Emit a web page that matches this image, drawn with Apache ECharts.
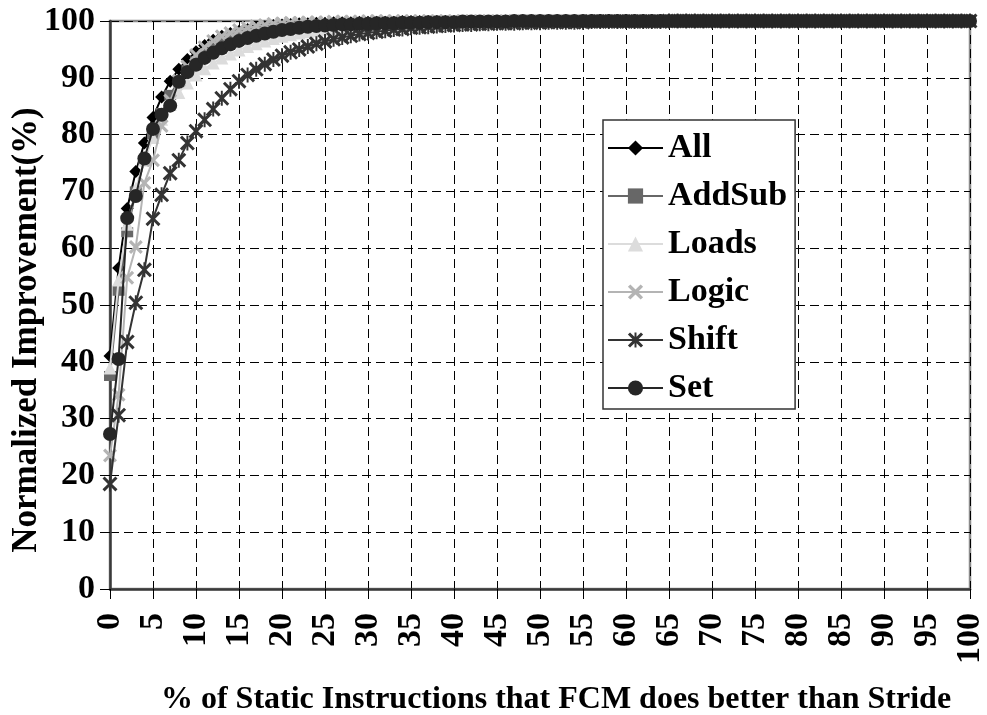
<!DOCTYPE html>
<html>
<head>
<meta charset="utf-8">
<script src="https://cdn.jsdelivr.net/npm/echarts@6/dist/echarts.min.js"></script>
<style>
  html, body { margin: 0; padding: 0; background: #fff; }
  #chart { width: 987px; height: 715px; }
</style>
</head>
<body>
<div id="chart"></div>
<script>
// Percentage of static instructions (x positions 0..100)
const xPositions = [
  0,1,2,3,4,5,6,7,8,9,10,11,12,13,14,15,16,17,18,19,20,21,22,23,24,25,26,27,28,29,
  30,31,32,33,34,35,36,37,38,39,40,41,42,43,44,45,46,47,48,49,50,51,52,53,54,55,56,57,58,59,
  60,61,62,63,64,65,66,67,68,69,70,71,72,73,74,75,76,77,78,79,80,81,82,83,84,85,86,87,88,89,
  90,91,92,93,94,95,96,97,98,99,100
];

const seriesNames = ['All', 'AddSub', 'Loads', 'Logic', 'Shift', 'Set'];

const allValues = [
  41,56.5,67,73.5,78.5,83,86.6,89.4,91.5,93.2,
  94.6,95.7,96.6,97.3,97.8,98.2,98.5,98.8,99.0,99.2,
  99.3,99.4,99.5,99.5,99.6,99.6,99.7,99.7,99.7,99.8,
  99.8,99.8,99.8,99.8,99.9,99.9,99.9,99.9,99.9,99.9,
  99.9,99.9,99.9,99.9,99.9,100,100,100,100,100,
  100,100,100,100,100,100,100,100,100,100,
  100,100,100,100,100,100,100,100,100,100,
  100,100,100,100,100,100,100,100,100,100,
  100,100,100,100,100,100,100,100,100,100,
  100,100,100,100,100,100,100,100,100,100,
  100
];

const addSubValues = [
  37.5,52.5,62.8,70,75.5,80,83.8,87,89.5,91.4,
  92.9,94.2,95.2,96,96.7,97.2,97.7,98.1,98.4,98.7,
  98.9,99.1,99.2,99.3,99.4,99.5,99.5,99.6,99.6,99.7,
  99.7,99.7,99.8,99.8,99.8,99.8,99.9,99.9,99.9,99.9,
  99.9,99.9,99.9,99.9,100,100,100,100,100,100,
  100,100,100,100,100,100,100,100,100,100,
  100,100,100,100,100,100,100,100,100,100,
  100,100,100,100,100,100,100,100,100,100,
  100,100,100,100,100,100,100,100,100,100,
  100,100,100,100,100,100,100,100,100,100,
  100
];

const loadsValues = [
  38.9,54.4,64.2,70.5,75.5,79.5,82.7,85.3,87.4,89.1,
  90.5,91.6,92.6,93.5,94.2,94.9,95.5,96,96.5,96.9,
  97.3,97.6,97.9,98.1,98.3,98.5,98.7,98.9,99,99.1,
  99.2,99.3,99.4,99.4,99.5,99.5,99.6,99.6,99.7,99.7,
  99.7,99.8,99.8,99.8,99.8,99.9,99.9,99.9,99.9,99.9,
  99.9,99.9,99.9,100,100,100,100,100,100,100,
  100,100,100,100,100,100,100,100,100,100,
  100,100,100,100,100,100,100,100,100,100,
  100,100,100,100,100,100,100,100,100,100,
  100,100,100,100,100,100,100,100,100,100,
  100
];

const logicValues = [
  23.5,34.2,54.8,60.2,71.5,75.5,81.5,86,89.5,92,
  94,95.4,96.5,97.3,97.9,98.4,98.8,99.1,99.3,99.5,
  99.6,99.7,99.7,99.8,99.8,99.8,99.9,99.9,99.9,99.9,
  100,100,100,100,100,100,100,100,100,100,
  100,100,100,100,100,100,100,100,100,100,
  100,100,100,100,100,100,100,100,100,100,
  100,100,100,100,100,100,100,100,100,100,
  100,100,100,100,100,100,100,100,100,100,
  100,100,100,100,100,100,100,100,100,100,
  100,100,100,100,100,100,100,100,100,100,
  100
];

const shiftValues = [
  18.5,30.6,43.5,50.4,56.2,65.2,69.4,73.2,75.5,78.5,
  80.6,82.6,84.5,86.4,88,89.4,90.5,91.5,92.4,93.2,
  93.9,94.5,95,95.5,96,96.4,96.8,97.1,97.4,97.7,
  97.9,98.1,98.3,98.5,98.6,98.8,98.9,99,99.1,99.2,
  99.3,99.4,99.4,99.5,99.5,99.6,99.6,99.6,99.7,99.7,
  99.7,99.8,99.8,99.8,99.8,99.8,99.9,99.9,99.9,99.9,
  99.9,99.9,99.9,99.9,99.9,100,100,100,100,100,
  100,100,100,100,100,100,100,100,100,100,
  100,100,100,100,100,100,100,100,100,100,
  100,100,100,100,100,100,100,100,100,100,
  100
];

const setValues = [
  27.3,40.5,65.3,69.2,75.8,81,83.5,85.1,89.3,91,
  92.3,93.5,94.4,95.2,95.9,96.5,97,97.4,97.8,98.1,
  98.4,98.6,98.8,99,99.1,99.2,99.3,99.4,99.4,99.5,
  99.5,99.6,99.6,99.6,99.7,99.7,99.7,99.8,99.8,99.8,
  99.8,99.9,99.9,99.9,99.9,99.9,99.9,100,100,100,
  100,100,100,100,100,100,100,100,100,100,
  100,100,100,100,100,100,100,100,100,100,
  100,100,100,100,100,100,100,100,100,100,
  100,100,100,100,100,100,100,100,100,100,
  100,100,100,100,100,100,100,100,100,100,
  100
];

const xTickValues = [0, 100, 5];   // min, max, step
const yTickValues = [0, 100, 10];

const FONT = '"Liberation Serif", "Times New Roman", serif';

// Marker shapes: a filled "x" and a six-armed asterisk
const crossPath = 'path://M0,1.6L1.6,0L5,3.4L8.4,0L10,1.6L6.6,5L10,8.4L8.4,10L5,6.6L1.6,10L0,8.4L3.4,5Z';
const starPath = 'path://M0,1.4L1.4,0L5,3.6L8.6,0L10,1.4L6.4,5L10,8.6L8.6,10L5,6.4L1.4,10L0,8.6L3.6,5Z' +
                 'M4.35,0L5.65,0L5.65,10L4.35,10Z';

const styles = [
  { color: '#000000', symbol: 'diamond', size: 13 },
  { color: '#676767', symbol: 'rect', size: [12, 10] },
  { color: '#dcdcdc', symbol: 'triangle', size: 13 },
  { color: '#b4b4b4', symbol: crossPath, size: 14 },
  { color: '#333333', symbol: starPath, size: 15 },
  { color: '#262626', symbol: 'circle', size: 14 }
];

const valueSets = [allValues, addSubValues, loadsValues, logicValues, shiftValues, setValues];

const series = seriesNames.map((name, i) => ({
  name: name,
  type: 'line',
  data: xPositions.map((x, k) => [x, valueSets[i][k]]),
  symbol: styles[i].symbol,
  symbolSize: styles[i].size,
  showAllSymbol: true,
  smooth: false,
  animation: false,
  lineStyle: { color: styles[i].color, width: 2 },
  itemStyle: { color: styles[i].color },
  emphasis: { disabled: true },
  z: 3 + i
}));

const chart = echarts.init(document.getElementById('chart'), null, { renderer: 'canvas' });
chart.setOption({
  backgroundColor: '#ffffff',
  animation: false,
  grid: {
    left: 110, right: 11, top: 21, bottom: 126,
    show: true, borderColor: '#8a8a8a', borderWidth: 2.5, backgroundColor: 'transparent'
  },
  xAxis: {
    type: 'value',
    min: xTickValues[0], max: xTickValues[1], interval: xTickValues[2],
    axisLine: { show: true, onZero: false, lineStyle: { color: '#3a3a3a', width: 2.5 } },
    axisTick: { show: true, length: 10, lineStyle: { color: '#000', width: 1 } },
    axisLabel: {
      rotate: 90, margin: 24,
      fontFamily: FONT, fontWeight: 'bold', fontSize: 34, color: '#000'
    },
    splitLine: { show: true, lineStyle: { color: '#000', width: 1, type: [9, 5] } }
  },
  yAxis: {
    type: 'value',
    min: yTickValues[0], max: yTickValues[1], interval: yTickValues[2],
    axisLine: { show: true, lineStyle: { color: '#3a3a3a', width: 2.5 } },
    axisTick: { show: true, length: 10, lineStyle: { color: '#000', width: 1 } },
    axisLabel: {
      margin: 15,
      fontFamily: FONT, fontWeight: 'bold', fontSize: 34, color: '#000'
    },
    splitLine: { show: true, lineStyle: { color: '#000', width: 1, type: [9, 5] } }
  },
  legend: {
    data: seriesNames,
    orient: 'vertical',
    left: 603, top: 120,
    padding: [11, 8, 4, 4],
    itemGap: 14,
    itemWidth: 55,
    itemHeight: 19,
    backgroundColor: '#ffffff',
    borderColor: '#333',
    borderWidth: 1.5,
    textStyle: {
      fontFamily: FONT, fontWeight: 'bold', fontSize: 34, color: '#000',
      lineHeight: 34
    }
  },
  graphic: [
    {
      type: 'text',
      x: 556, y: 700,
      style: {
        text: '% of Static Instructions that FCM does better than Stride',
        font: 'bold 32px ' + FONT,
        fill: '#000', textAlign: 'center', textVerticalAlign: 'middle'
      }
    },
    {
      type: 'text',
      x: 27, y: 330,
      rotation: Math.PI / 2,
      style: {
        text: 'Normalized Improvement(%)',
        font: 'bold 35px ' + FONT,
        fill: '#000', textAlign: 'center', textVerticalAlign: 'middle'
      }
    }
  ],
  series: series
});
</script>
</body>
</html>
